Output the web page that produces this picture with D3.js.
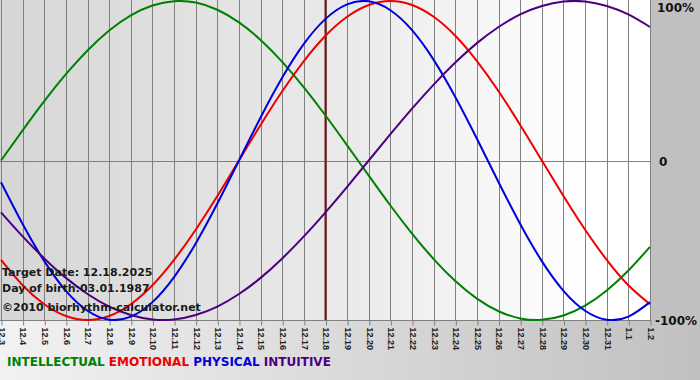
<!DOCTYPE html>
<html><head><meta charset="utf-8">
<script src="https://cdn.jsdelivr.net/npm/d3@7"></script>
<style>html,body{margin:0;padding:0;background:#fff;}svg{display:block;}</style>
</head><body>
<script>
const dates = ["12.3","12.4","12.5","12.6","12.7","12.8","12.9","12.10","12.11","12.12","12.13","12.14","12.15","12.16","12.17","12.18","12.19","12.20","12.21","12.22","12.23","12.24","12.25","12.26","12.27","12.28","12.29","12.30","12.31","1.1","1.2"];
const intellectual = [0,0.189,0.372,0.541,0.690,0.815,0.910,0.972,0.999,0.990,0.945,0.866,0.756,0.618,0.458,0.282,0.095,-0.095,-0.282,-0.458,-0.618,-0.756,-0.866,-0.945,-0.990,-0.999,-0.972,-0.910,-0.815,-0.690,-0.541];
const emotional = [-0.623,-0.782,-0.901,-0.975,-1,-0.975,-0.901,-0.782,-0.623,-0.434,-0.223,0,0.223,0.434,0.623,0.782,0.901,0.975,1,0.975,0.901,0.782,0.623,0.434,0.223,0,-0.223,-0.434,-0.623,-0.782,-0.901];
const physical = [-0.136,-0.398,-0.631,-0.817,-0.942,-0.998,-0.979,-0.888,-0.731,-0.520,-0.270,0,0.270,0.520,0.731,0.888,0.979,0.998,0.942,0.817,0.631,0.398,0.136,-0.136,-0.398,-0.631,-0.817,-0.942,-0.998,-0.979,-0.888];
const intuitive = [-0.325,-0.476,-0.614,-0.736,-0.837,-0.916,-0.969,-0.997,-0.997,-0.969,-0.916,-0.837,-0.736,-0.614,-0.476,-0.325,-0.165,0,0.165,0.325,0.476,0.614,0.736,0.837,0.916,0.969,0.997,0.997,0.969,0.916,0.837];
const seriesNames = ["INTELLECTUAL","EMOTIONAL","PHYSICAL","INTUITIVE"];
const seriesColors = ["#008000","#ee0000","#0000dd","#4b0082"];
const yTickValues = [1,0,-1];
const yTickLabels = ["100%","0","-100%"];
const targetDate = "12.18";
const infoLines = ["Target Date: 12.18.2025","Day of birth:03.01.1987","\u00a92010 biorhythm-calculator.net"];

const W = 700, H = 380;
const svg = d3.select("body").append("svg").attr("width", W).attr("height", H);
const defs = svg.append("defs");
const bg = defs.append("linearGradient").attr("id","bg").attr("x1","0").attr("y1","0").attr("x2","1").attr("y2","0");
bg.append("stop").attr("offset","0").attr("stop-color","#f2f2f2");
bg.append("stop").attr("offset","0.93").attr("stop-color","#c4c4c4");
bg.append("stop").attr("offset","1").attr("stop-color","#c0c0c0");
const pg = defs.append("linearGradient").attr("id","pg").attr("x1","0").attr("y1","0").attr("x2","1").attr("y2","0");
pg.append("stop").attr("offset","0").attr("stop-color","#d6d6d6");
pg.append("stop").attr("offset","0.55").attr("stop-color","#ebebeb");
pg.append("stop").attr("offset","0.9").attr("stop-color","#ffffff");
pg.append("stop").attr("offset","1").attr("stop-color","#ffffff");

svg.append("rect").attr("width",W).attr("height",H).attr("fill","url(#bg)");
svg.append("rect").attr("x",651).attr("y",0).attr("width",49).attr("height",321).attr("fill","#c0c0c0");

const x = d3.scalePoint().domain(dates).range([1, 650]);
const y = d3.scaleLinear().domain([-1, 1]).range([320, 1]);

svg.append("rect").attr("x",0).attr("y",0).attr("width",651).attr("height",320.5).attr("fill","url(#pg)");

defs.append("clipPath").attr("id","clip").append("rect").attr("x",0).attr("y",0).attr("width",651).attr("height",321);

// vertical grid
svg.append("g").selectAll("line").data(dates).join("line")
  .attr("x1", d => Math.round(x(d)) + 0.5).attr("x2", d => Math.round(x(d)) + 0.5)
  .attr("y1", 0).attr("y2", 320).attr("stroke", "#808080").attr("stroke-width", 1);
// zero line
svg.append("line").attr("x1",0).attr("x2",651).attr("y1",Math.round(y(0))+0.5).attr("y2",Math.round(y(0))+0.5)
  .attr("stroke","#808080");

// bottom axis
const axis = d3.axisBottom(x).tickSize(5).tickSizeOuter(0);
const ag = svg.append("g").attr("transform","translate(0.5,320.5)").call(axis);
ag.select(".domain").attr("stroke","#808080").attr("d","M-1,0H651");
ag.selectAll(".tick line").attr("stroke","#808080");
ag.selectAll(".tick text")
  .attr("transform","rotate(90)")
  .attr("x", 7).attr("y", 0).attr("dy","0.35em")
  .attr("text-anchor","start")
  .attr("fill","#222")
  .attr("font-family","'Liberation Sans', Arial, sans-serif")
  .attr("font-size", 9)
  .attr("font-weight","bold");

// target line
svg.append("line").attr("x1", x(targetDate)).attr("x2", x(targetDate)).attr("y1",0).attr("y2",320)
  .attr("stroke","#7a1515").attr("stroke-width",2);

// curves
const allSeries = [intellectual, emotional, physical, intuitive];
const line = d3.line().x((d,i) => x(dates[i])).y(d => y(d)).curve(d3.curveNatural);
const cg = svg.append("g").attr("clip-path","url(#clip)");
allSeries.forEach((s, k) => {
  cg.append("path").attr("d", line(s)).attr("fill","none")
    .attr("stroke", seriesColors[k]).attr("stroke-width", 2);
});

// right labels
svg.append("g").selectAll("text").data(yTickValues).join("text")
  .attr("x", (d,i) => i === 1 ? 659 : (i === 2 ? 655 : 657))
  .attr("y", (d,i) => i === 0 ? 8 : y(d) + 1).attr("dy", "0.35em")
  .attr("font-family","'DejaVu Sans', Verdana, sans-serif").attr("font-weight","bold")
  .attr("font-size", 12).attr("fill","#111")
  .text((d,i) => yTickLabels[i]);

// info text
svg.append("g").selectAll("text").data(infoLines).join("text")
  .attr("x", 2).attr("y", (d,i) => [276, 292, 311][i])
  .attr("font-family","'DejaVu Sans', Verdana, sans-serif").attr("font-weight","bold")
  .attr("font-size", 11).attr("fill","#1a1a1a")
  .text(d => d);

// legend
const lg = svg.append("text").attr("x", 7).attr("y", 366)
  .attr("font-family","'DejaVu Sans', Verdana, sans-serif").attr("font-weight","bold")
  .attr("font-size", 12);
seriesNames.forEach((n, k) => {
  lg.append("tspan").attr("fill", seriesColors[k]).text((k ? " " : "") + n);
});
</script>
</body></html>
